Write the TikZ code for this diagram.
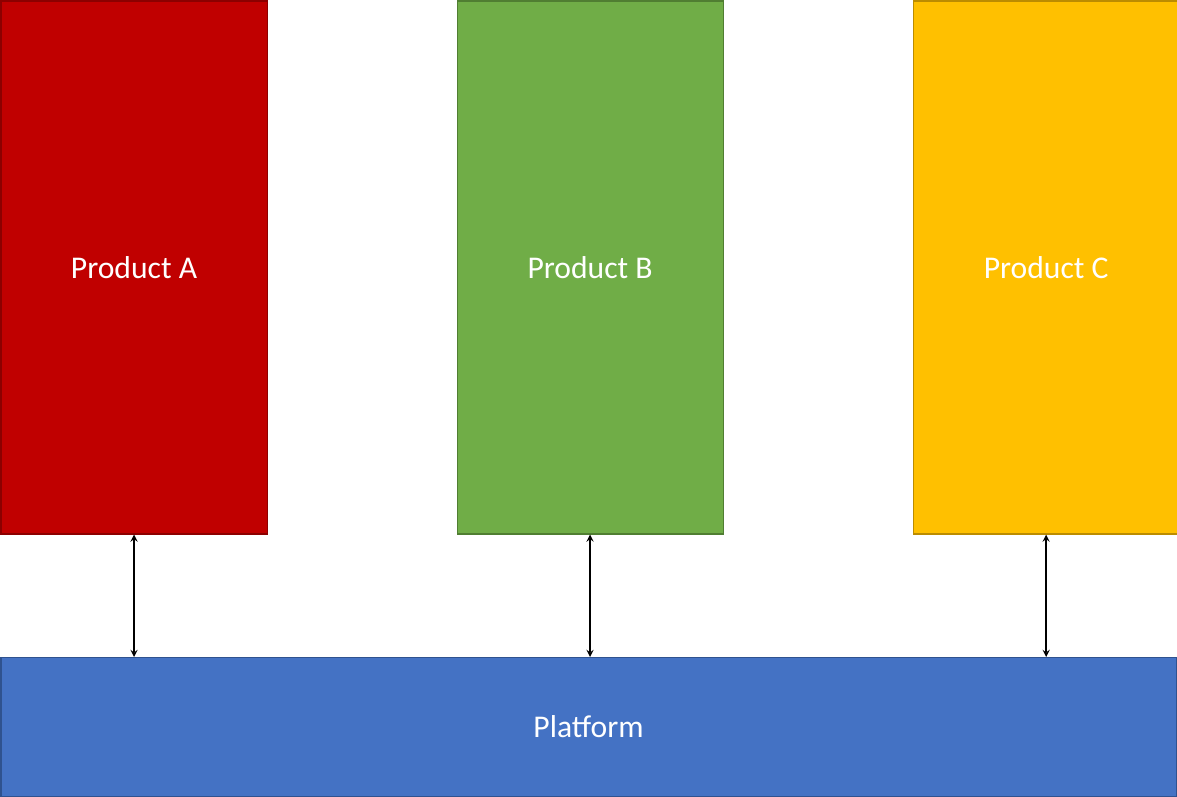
\documentclass[tikz,border=0pt]{standalone}
\usepackage{fontspec}
\setmainfont{Carlito}
\usetikzlibrary{positioning, arrows}
\definecolor{redA}{HTML}{C00000}
\definecolor{redAline}{HTML}{8C0000}
\definecolor{greenB}{HTML}{70AD47}
\definecolor{greenBline}{HTML}{507E32}
\definecolor{yellowC}{HTML}{FFC000}
\definecolor{yellowCline}{HTML}{BC8C00}
\definecolor{bluePf}{HTML}{4472C4}
\definecolor{bluePfline}{HTML}{2F528F}
\tikzset{
    product/.style={draw, line width=0.6pt, minimum width=5.32cm, minimum height=10.66cm, text=white, font=\fontsize{18}{21}\selectfont, inner sep=0pt},
    link/.style={thick, <->, >=stealth},
}
\begin{document}
\begin{tikzpicture}[node distance=3.78cm]
            \useasboundingbox (0,0) rectangle (23.54,-15.94);
            \node[product, fill=redA, draw=redAline, anchor=north west] (a) at (0.01,-0.01) {Product A};
            \node[product, fill=greenB, draw=greenBline] (b) [right=of a] {Product B};
            \node[product, fill=yellowC, draw=yellowCline] (c) [right=of b] {Product C};
            \node[product, fill=bluePf, draw=bluePfline, anchor=north west, minimum width=23.5cm, minimum height=2.78cm] (p) at (0.01,-13.14) {Platform};

            \draw[link] (a.south) -- (a.south |- p.north);
            \draw[link] (b.south) -- (b.south |- p.north);
            \draw[link] (c.south) -- (c.south |- p.north);
        \end{tikzpicture}
\end{document}
